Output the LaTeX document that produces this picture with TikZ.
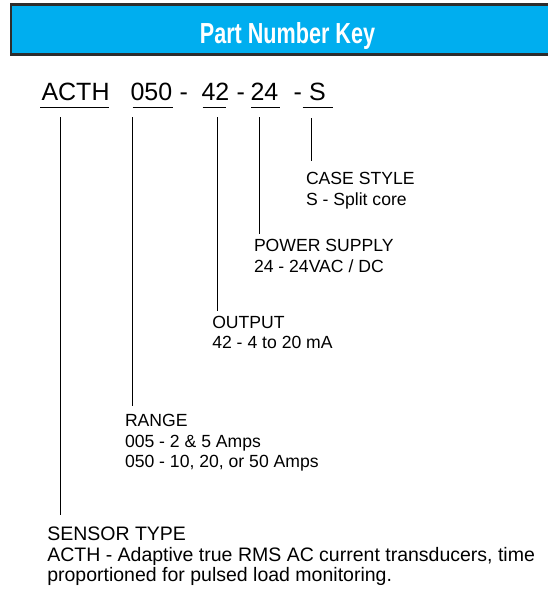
\documentclass[tikz,border=0pt]{standalone}
\usepackage{fontspec}
\setmainfont{Liberation Sans}
\definecolor{hdrblue}{RGB}{0,174,239}
\definecolor{hdrline}{RGB}{45,45,45}
\begin{document}
\begin{tikzpicture}[x=1pt,y=-1pt,
  txt/.style={anchor=base west,inner sep=0pt,outer sep=0pt,font=\fontsize{17.6}{21}\selectfont},
  bigtxt/.style={anchor=base west,inner sep=0pt,outer sep=0pt,font=\fontsize{19.5}{21}\selectfont},
  part/.style={anchor=base west,inner sep=0pt,outer sep=0pt,font=\fontsize{25}{30}\selectfont},
  rule/.style={line width=1.2pt,black}]
\useasboundingbox (0,0) rectangle (548,594);
% header
\draw[fill=hdrblue,draw=hdrline,line width=2.5pt] (11,4.5) rectangle (570,54.5);
\node[anchor=base,inner sep=0pt,text=white,font=\fontsize{29}{30}\selectfont\bfseries] (title) at (287.5,43.5) {\scalebox{0.745}[1]{Part Number Key}};
% part number
\node[part] (pACTH) at (41.5,100.7) {ACTH};
\node[part] (p050) at (130.5,100.7) {050};
\node[part] (d1) at (179.5,100.7) {-};
\node[part] (p42) at (201.5,100.7) {42};
\node[part] (d2) at (236.5,100.7) {-};
\node[part] (p24) at (250.5,100.7) {24};
\node[part] (d3) at (293.5,100.7) {-};
\node[part] (pS) at (309,100.7) {S};
% underlines
\coordinate (uA1) at (40,107.5); \coordinate (uA2) at (109.3,107.5);
\coordinate (uB1) at (132.5,107.5); \coordinate (uB2) at (172.7,107.5);
\coordinate (uC1) at (202.5,107.5); \coordinate (uC2) at (225.5,107.5);
\coordinate (uD1) at (251,107.5); \coordinate (uD2) at (280,107.5);
\coordinate (uE1) at (302.7,107.5); \coordinate (uE2) at (333.3,107.5);
\draw[rule] (uA1) -- (uA2);
\draw[rule] (uB1) -- (uB2);
\draw[rule] (uC1) -- (uC2);
\draw[rule] (uD1) -- (uD2);
\draw[rule] (uE1) -- (uE2);
% labels
\node[txt] (caseA) at (306,184) {CASE STYLE};
\node[txt] (caseB) at (306,205) {S - Split core};
\node[txt] (powA) at (254,251.7) {POWER SUPPLY};
\node[txt] (powB) at (254,272.7) {24 - 24VAC / DC};
\node[txt] (outA) at (212.3,328.3) {OUTPUT};
\node[txt] (outB) at (212.3,348) {42 - 4 to 20 mA};
\node[txt] (rngA) at (125,426) {RANGE};
\node[txt] (rngB) at (125,447) {005 - 2 \& 5 Amps};
\node[txt] (rngC) at (125,467.5) {050 - 10, 20, or 50 Amps};
\node[bigtxt] (senA) at (47.3,540) {SENSOR TYPE};
\node[bigtxt] (senB) at (47.3,561.7) {ACTH - Adaptive true RMS AC current transducers, time};
\node[bigtxt] (senC) at (47.3,581.7) {proportioned for pulsed load monitoring.};
% connectors
\coordinate (tA) at (60.5,117); \coordinate (bA) at (60.5,515);
\coordinate (tB) at (132.5,117); \coordinate (bB) at (132.5,406);
\coordinate (tC) at (217.5,117); \coordinate (bC) at (217.5,310.7);
\coordinate (tD) at (259.5,117); \coordinate (bD) at (259.5,234);
\coordinate (tE) at (311.5,118); \coordinate (bE) at (311.5,160.7);
\draw[rule] (tA) -- (bA);
\draw[rule] (tB) -- (bB);
\draw[rule] (tC) -- (bC);
\draw[rule] (tD) -- (bD);
\draw[rule] (tE) -- (bE);
\end{tikzpicture}
\end{document}
